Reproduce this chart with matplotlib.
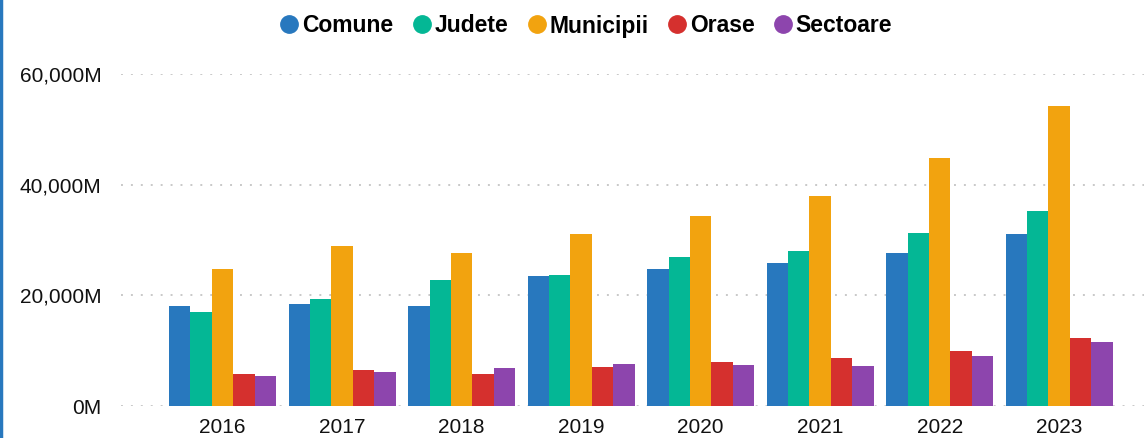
import numpy as np
import matplotlib
matplotlib.use("Agg")
import matplotlib.pyplot as plt
from matplotlib import font_manager
from matplotlib.lines import Line2D
from matplotlib.ticker import FuncFormatter

# ---- data (values in millions) ----
YEARS = ["2016", "2017", "2018", "2019", "2020", "2021", "2022", "2023"]
SERIES = ["Comune", "Judete", "Municipii", "Orase", "Sectoare"]
comune = [18100, 18470, 18100, 23460, 24730, 25870, 27680, 31100]
judete = [17000, 19370, 22740, 23640, 26900, 28040, 31290, 35250]
municipii = [24730, 28930, 27620, 31070, 34300, 37960, 44820, 54210]
orase = [5800, 6430, 5780, 7040, 7940, 8730, 9980, 12350]
sectoare = [5450, 6190, 6860, 7580, 7400, 7300, 9100, 11630]

COLORS = ["#2878BE", "#04B795", "#F2A30F", "#D5302E", "#8D45AD"]

names = {f.name for f in font_manager.fontManager.ttflist}
BASE = "Liberation Sans" if "Liberation Sans" in names else "DejaVu Sans"
plt.rcParams["font.family"] = BASE

fig = plt.figure(figsize=(11.48, 4.38), dpi=100)
ax = fig.add_axes([121 / 1148, 1 - 406 / 438, (1144 - 121) / 1148, (406 - 74) / 438])

x = np.arange(len(YEARS))
w = 0.179
vals = [comune, judete, municipii, orase, sectoare]
for i, (v, c) in enumerate(zip(vals, COLORS)):
    ax.bar(x + (i - 2) * w, v, w, color=c, linewidth=0, zorder=3)

ax.set_xlim(-0.85, 7.71)
ax.set_ylim(0, 60000)
ax.set_yticks([0, 20000, 40000, 60000])
ax.yaxis.set_major_formatter(FuncFormatter(lambda v, p: f"{int(v):,}M"))
ax.set_xticks(x)
ax.set_xticklabels(YEARS)
ax.tick_params(axis="both", length=0, labelsize=15, colors="#111111")
ax.tick_params(axis="y", pad=14)
ax.tick_params(axis="x", pad=8.5)
ax.grid(axis="y", color="#c8c8c8", lw=1.4, linestyle=(0, (1, 4.1)), zorder=0)
for s in ax.spines.values():
    s.set_visible(False)

# legend
handles = [Line2D([], [], marker="o", ls="", color=c, ms=12.5) for c in COLORS]
fig.legend(handles, SERIES, loc="center", bbox_to_anchor=(585 / 1148, 1 - 26 / 438),
           ncol=5, frameon=False, handletextpad=0.05, columnspacing=0.75,
           prop={"family": BASE, "weight": "bold", "size": 16.5}, handlelength=1.0)

# left border accent
fig.add_artist(Line2D([0.001, 0.001], [0, 1], color="#2878BE", lw=2.5,
                      transform=fig.transFigure))

fig.savefig("out.png", dpi=100)
